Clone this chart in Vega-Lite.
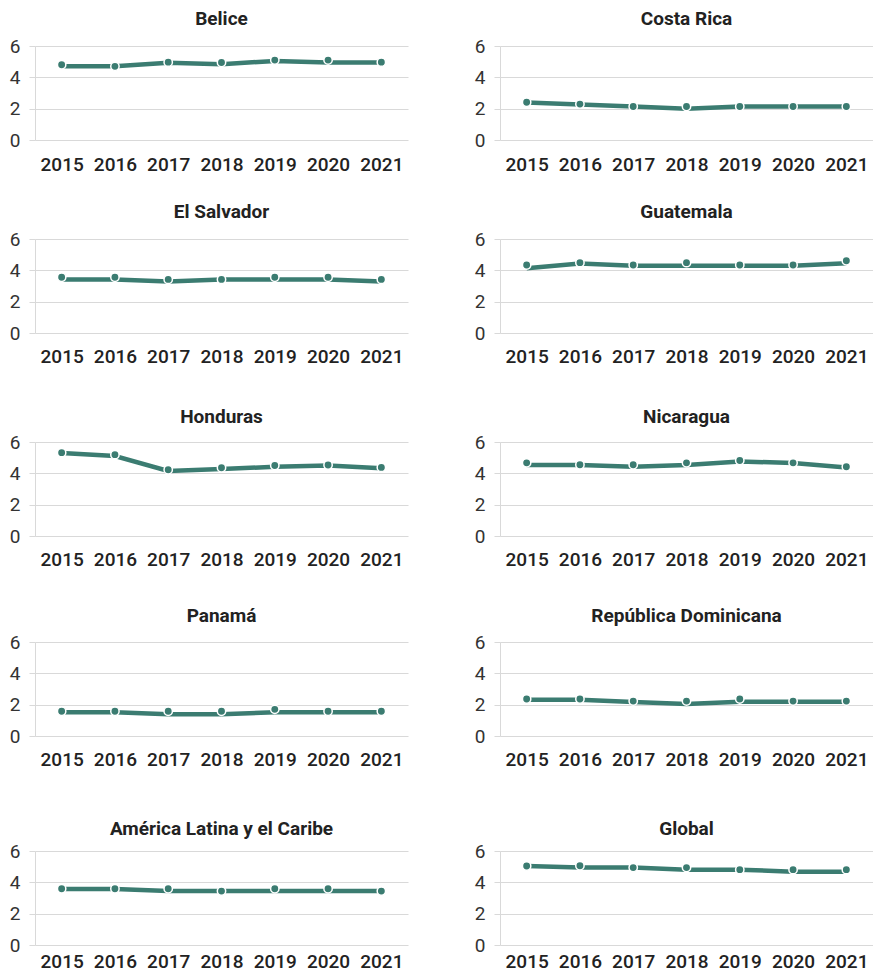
{
  "$schema": "https://vega.github.io/schema/vega-lite/v6.json",
  "padding": {"left": 9, "top": 10, "right": 0, "bottom": 0},
  "background": "white",
  "config": {
    "view": {"stroke": null},
    "font": "Roboto",
    "header": {"labelFont": "Roboto", "labelFontSize": 19, "labelFontWeight": "bold", "labelColor": "#222222"},
    "axisX": {"labelAngle": 0, "domain": false, "ticks": false, "grid": false, "labelFont": "Roboto", "labelFontSize": 19, "labelFontWeight": 500, "labelColor": "#222222"},
    "axisY": {"domain": true, "domainColor": "#d9d9d9", "ticks": true, "tickColor": "#d9d9d9", "tickSize": 6, "grid": true, "gridColor": "#d9d9d9", "labelFont": "Roboto", "labelFontSize": 19, "labelColor": "#333333", "labelPadding": 9}
  },
  "datasets": {
    "rates": [
      {"c": "Belice", "year": "2015", "v": 4.7, "d": 4.8},
      {"c": "Belice", "year": "2016", "v": 4.7, "d": 4.7},
      {"c": "Belice", "year": "2017", "v": 4.93, "d": 4.97},
      {"c": "Belice", "year": "2018", "v": 4.83, "d": 4.95},
      {"c": "Belice", "year": "2019", "v": 5.05, "d": 5.1},
      {"c": "Belice", "year": "2020", "v": 4.95, "d": 5.1},
      {"c": "Belice", "year": "2021", "v": 4.95, "d": 4.97},
      {"c": "Costa Rica", "year": "2015", "v": 2.39, "d": 2.41},
      {"c": "Costa Rica", "year": "2016", "v": 2.26, "d": 2.29},
      {"c": "Costa Rica", "year": "2017", "v": 2.14, "d": 2.14},
      {"c": "Costa Rica", "year": "2018", "v": 1.99, "d": 2.14},
      {"c": "Costa Rica", "year": "2019", "v": 2.14, "d": 2.14},
      {"c": "Costa Rica", "year": "2020", "v": 2.14, "d": 2.14},
      {"c": "Costa Rica", "year": "2021", "v": 2.14, "d": 2.14},
      {"c": "El Salvador", "year": "2015", "v": 3.42, "d": 3.56},
      {"c": "El Salvador", "year": "2016", "v": 3.42, "d": 3.56},
      {"c": "El Salvador", "year": "2017", "v": 3.29, "d": 3.42},
      {"c": "El Salvador", "year": "2018", "v": 3.42, "d": 3.42},
      {"c": "El Salvador", "year": "2019", "v": 3.42, "d": 3.56},
      {"c": "El Salvador", "year": "2020", "v": 3.42, "d": 3.56},
      {"c": "El Salvador", "year": "2021", "v": 3.29, "d": 3.42},
      {"c": "Guatemala", "year": "2015", "v": 4.13, "d": 4.34},
      {"c": "Guatemala", "year": "2016", "v": 4.44, "d": 4.49},
      {"c": "Guatemala", "year": "2017", "v": 4.3, "d": 4.34},
      {"c": "Guatemala", "year": "2018", "v": 4.3, "d": 4.49},
      {"c": "Guatemala", "year": "2019", "v": 4.3, "d": 4.34},
      {"c": "Guatemala", "year": "2020", "v": 4.3, "d": 4.34},
      {"c": "Guatemala", "year": "2021", "v": 4.45, "d": 4.61},
      {"c": "Honduras", "year": "2015", "v": 5.3, "d": 5.32},
      {"c": "Honduras", "year": "2016", "v": 5.1, "d": 5.19},
      {"c": "Honduras", "year": "2017", "v": 4.15, "d": 4.23},
      {"c": "Honduras", "year": "2018", "v": 4.27, "d": 4.36},
      {"c": "Honduras", "year": "2019", "v": 4.42, "d": 4.5},
      {"c": "Honduras", "year": "2020", "v": 4.5, "d": 4.53},
      {"c": "Honduras", "year": "2021", "v": 4.32, "d": 4.38},
      {"c": "Nicaragua", "year": "2015", "v": 4.53, "d": 4.67},
      {"c": "Nicaragua", "year": "2016", "v": 4.53, "d": 4.55},
      {"c": "Nicaragua", "year": "2017", "v": 4.42, "d": 4.55},
      {"c": "Nicaragua", "year": "2018", "v": 4.53, "d": 4.67},
      {"c": "Nicaragua", "year": "2019", "v": 4.76, "d": 4.82},
      {"c": "Nicaragua", "year": "2020", "v": 4.66, "d": 4.67},
      {"c": "Nicaragua", "year": "2021", "v": 4.37, "d": 4.42},
      {"c": "Panamá", "year": "2015", "v": 1.52, "d": 1.58},
      {"c": "Panamá", "year": "2016", "v": 1.52, "d": 1.58},
      {"c": "Panamá", "year": "2017", "v": 1.39, "d": 1.58},
      {"c": "Panamá", "year": "2018", "v": 1.39, "d": 1.58},
      {"c": "Panamá", "year": "2019", "v": 1.52, "d": 1.7},
      {"c": "Panamá", "year": "2020", "v": 1.52, "d": 1.58},
      {"c": "Panamá", "year": "2021", "v": 1.52, "d": 1.58},
      {"c": "República Dominicana", "year": "2015", "v": 2.32, "d": 2.36},
      {"c": "República Dominicana", "year": "2016", "v": 2.32, "d": 2.36},
      {"c": "República Dominicana", "year": "2017", "v": 2.17, "d": 2.23},
      {"c": "República Dominicana", "year": "2018", "v": 2.04, "d": 2.23},
      {"c": "República Dominicana", "year": "2019", "v": 2.19, "d": 2.36},
      {"c": "República Dominicana", "year": "2020", "v": 2.19, "d": 2.23},
      {"c": "República Dominicana", "year": "2021", "v": 2.19, "d": 2.23},
      {"c": "América Latina y el Caribe", "year": "2015", "v": 3.57, "d": 3.59},
      {"c": "América Latina y el Caribe", "year": "2016", "v": 3.57, "d": 3.59},
      {"c": "América Latina y el Caribe", "year": "2017", "v": 3.44, "d": 3.59},
      {"c": "América Latina y el Caribe", "year": "2018", "v": 3.44, "d": 3.44},
      {"c": "América Latina y el Caribe", "year": "2019", "v": 3.44, "d": 3.59},
      {"c": "América Latina y el Caribe", "year": "2020", "v": 3.44, "d": 3.59},
      {"c": "América Latina y el Caribe", "year": "2021", "v": 3.44, "d": 3.44},
      {"c": "Global", "year": "2015", "v": 5.04, "d": 5.04},
      {"c": "Global", "year": "2016", "v": 4.94, "d": 5.06},
      {"c": "Global", "year": "2017", "v": 4.94, "d": 4.94},
      {"c": "Global", "year": "2018", "v": 4.81, "d": 4.94},
      {"c": "Global", "year": "2019", "v": 4.81, "d": 4.81},
      {"c": "Global", "year": "2020", "v": 4.68, "d": 4.81},
      {"c": "Global", "year": "2021", "v": 4.68, "d": 4.81}
    ]
  },
  "data": {"name": "rates"},
  "spacing": 29,
  "vconcat": [
    {
      "transform": [{"filter": {"field": "c", "oneOf": ["Belice", "Costa Rica"]}}],
      "facet": {"column": {"field": "c", "type": "nominal", "sort": ["Belice", "Costa Rica"], "header": {"title": null, "labelPadding": 8}}},
      "spacing": 66,
      "resolve": {"axis": {"y": "independent"}},
      "spec": {
        "width": 373, "height": 94,
        "encoding": {"x": {"field": "year", "type": "ordinal", "title": null, "axis": {"labelPadding": 5}}},
        "layer": [
          {"mark": {"type": "line", "color": "#3b7c71", "strokeWidth": 4.5},
           "encoding": {"y": {"field": "v", "type": "quantitative", "title": null, "scale": {"domain": [0, 6], "nice": false}, "axis": {"values": [0, 2, 4, 6]}}}},
          {"mark": {"type": "point", "filled": true, "size": 70, "color": "#3b7c71", "stroke": "white", "strokeWidth": 1.5, "opacity": 1},
           "encoding": {"y": {"field": "d", "type": "quantitative", "title": null, "axis": {"values": [0, 2, 4, 6]}}}}
        ]
      }
    },
    {
      "spacing": 42,
      "vconcat": [
        {
          "transform": [{"filter": {"field": "c", "oneOf": ["El Salvador", "Guatemala"]}}],
          "facet": {"column": {"field": "c", "type": "nominal", "sort": ["El Salvador", "Guatemala"], "header": {"title": null, "labelPadding": 8}}},
          "spacing": 66,
          "resolve": {"axis": {"y": "independent"}},
          "spec": {
            "width": 373, "height": 94,
            "encoding": {"x": {"field": "year", "type": "ordinal", "title": null, "axis": {"labelPadding": 4}}},
            "layer": [
              {"mark": {"type": "line", "color": "#3b7c71", "strokeWidth": 4.5},
               "encoding": {"y": {"field": "v", "type": "quantitative", "title": null, "scale": {"domain": [0, 6], "nice": false}, "axis": {"values": [0, 2, 4, 6]}}}},
              {"mark": {"type": "point", "filled": true, "size": 70, "color": "#3b7c71", "stroke": "white", "strokeWidth": 1.5, "opacity": 1},
               "encoding": {"y": {"field": "d", "type": "quantitative", "title": null, "axis": {"values": [0, 2, 4, 6]}}}}
            ]
          }
        },
        {
          "spacing": 38,
          "vconcat": [
            {
              "transform": [{"filter": {"field": "c", "oneOf": ["Honduras", "Nicaragua"]}}],
              "facet": {"column": {"field": "c", "type": "nominal", "sort": ["Honduras", "Nicaragua"], "header": {"title": null, "labelPadding": 6}}},
              "spacing": 66,
              "resolve": {"axis": {"y": "independent"}},
              "spec": {
                "width": 373, "height": 94,
                "encoding": {"x": {"field": "year", "type": "ordinal", "title": null, "axis": {"labelPadding": 4}}},
                "layer": [
                  {"mark": {"type": "line", "color": "#3b7c71", "strokeWidth": 4.5},
                   "encoding": {"y": {"field": "v", "type": "quantitative", "title": null, "scale": {"domain": [0, 6], "nice": false}, "axis": {"values": [0, 2, 4, 6]}}}},
                  {"mark": {"type": "point", "filled": true, "size": 70, "color": "#3b7c71", "stroke": "white", "strokeWidth": 1.5, "opacity": 1},
                   "encoding": {"y": {"field": "d", "type": "quantitative", "title": null, "axis": {"values": [0, 2, 4, 6]}}}}
                ]
              }
            },
            {
              "spacing": 51,
              "vconcat": [
                {
                  "transform": [{"filter": {"field": "c", "oneOf": ["Panamá", "República Dominicana"]}}],
                  "facet": {"column": {"field": "c", "type": "nominal", "sort": ["Panamá", "República Dominicana"], "header": {"title": null, "labelPadding": 7}}},
                  "spacing": 66,
                  "resolve": {"axis": {"y": "independent"}},
                  "spec": {
                    "width": 373, "height": 94,
                    "encoding": {"x": {"field": "year", "type": "ordinal", "title": null, "axis": {"labelPadding": 4}}},
                    "layer": [
                      {"mark": {"type": "line", "color": "#3b7c71", "strokeWidth": 4.5},
                       "encoding": {"y": {"field": "v", "type": "quantitative", "title": null, "scale": {"domain": [0, 6], "nice": false}, "axis": {"values": [0, 2, 4, 6]}}}},
                      {"mark": {"type": "point", "filled": true, "size": 70, "color": "#3b7c71", "stroke": "white", "strokeWidth": 1.5, "opacity": 1},
                       "encoding": {"y": {"field": "d", "type": "quantitative", "title": null, "axis": {"values": [0, 2, 4, 6]}}}}
                    ]
                  }
                },
                {
                  "transform": [{"filter": {"field": "c", "oneOf": ["América Latina y el Caribe", "Global"]}}],
                  "facet": {"column": {"field": "c", "type": "nominal", "sort": ["América Latina y el Caribe", "Global"], "header": {"title": null, "labelPadding": 3}}},
                  "spacing": 66,
                  "resolve": {"axis": {"y": "independent"}},
                  "spec": {
                    "width": 373, "height": 94,
                    "encoding": {"x": {"field": "year", "type": "ordinal", "title": null, "axis": {"labelPadding": -3}}},
                    "layer": [
                      {"mark": {"type": "line", "color": "#3b7c71", "strokeWidth": 4.5},
                       "encoding": {"y": {"field": "v", "type": "quantitative", "title": null, "scale": {"domain": [0, 6], "nice": false}, "axis": {"values": [0, 2, 4, 6]}}}},
                      {"mark": {"type": "point", "filled": true, "size": 70, "color": "#3b7c71", "stroke": "white", "strokeWidth": 1.5, "opacity": 1},
                       "encoding": {"y": {"field": "d", "type": "quantitative", "title": null, "axis": {"values": [0, 2, 4, 6]}}}}
                    ]
                  }
                }
              ]
            }
          ]
        }
      ]
    }
  ]
}
